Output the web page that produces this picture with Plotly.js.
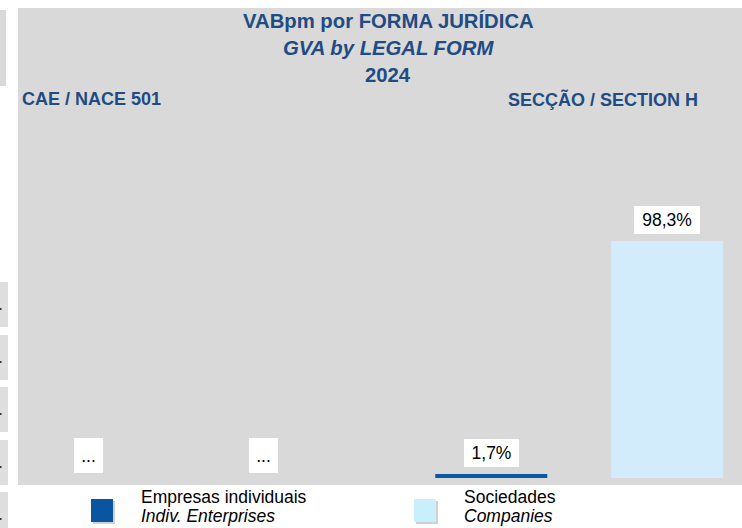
<!DOCTYPE html>
<html>
<head>
<meta charset="utf-8">
<script src="https://cdn.plot.ly/plotly-3.0.1.min.js"></script>
<style>html,body{margin:0;padding:0;background:#fff;}#chart{width:742px;height:528px;}</style>
</head>
<body>
<div id="chart"></div>
<script>
// ---- data ----
const categories = ['CAE / NACE 501', 'SECÇÃO / SECTION H'];
const seriesNamesPt = ['Empresas individuais', 'Sociedades'];
const seriesNamesEn = ['Indiv. Enterprises', 'Companies'];
const empresasValues = [null, 1.7];
const sociedadesValues = [null, 98.3];
const missingLabel = '...';
const titleLines = ['VABpm por FORMA JURÍDICA', 'GVA by LEGAL FORM', '2024'];

// ---- styles ----
const W = 742, H = 528;
const M = {l: 18, r: 0, t: 8, b: 43};
const px2x = p => (p - M.l) / (W - M.l - M.r);
const py2y = p => (H - M.b - p) / (H - M.t - M.b);
const FONT = 'Liberation Sans, Arial, sans-serif';
const titleColor = '#214b82';
const barColors = ['#0b5aa0', '#d3ecfb'];
const legendColors = ['#0a55a2', '#c9eefc'];
const barWidth = 0.278;
const barOffsets = [-0.357, 0.079];

const seriesValues = [empresasValues, sociedadesValues];

const traces = seriesValues.map((vals, s) => ({
  type: 'bar',
  x: categories,
  y: vals,
  name: seriesNamesPt[s],
  width: barWidth,
  offset: barOffsets[s],
  marker: {color: barColors[s]},
  showlegend: false,
  hoverinfo: 'skip'
}));

const fmt = v => v.toFixed(1).replace('.', ',') + '%';

const annotations = [];
// data labels
seriesValues.forEach((vals, s) => {
  vals.forEach((v, i) => {
    const missing = (v === null || v === undefined);
    const text = missing ? missingLabel : fmt(v);
    annotations.push({
      xref: 'x', yref: 'y',
      x: i + barOffsets[s] + barWidth / 2,
      y: missing ? 0 : v,
      text: text,
      showarrow: false,
      xanchor: 'center', yanchor: 'bottom',
      yshift: missing ? 5 : 7,
      bgcolor: '#ffffff',
      borderwidth: 0, borderpad: 2,
      width: missing ? 25 : (text.length > 4 ? 62 : 51),
      height: missing ? 31 : 24,
      font: {family: FONT, size: 17.5, color: '#000'}
    });
  });
});

// titles
const titleY = [21.5, 48.5, 75];
const titleStyles = [{}, {italic: true}, {}];
titleLines.forEach((t, k) => {
  annotations.push({
    xref: 'paper', yref: 'paper', x: px2x(388), y: py2y(titleY[k]),
    xanchor: 'center', yanchor: 'middle', showarrow: false,
    text: titleStyles[k].italic ? '<b><i>' + t + '</i></b>' : '<b>' + t + '</b>',
    font: {family: FONT, size: 20.3, color: titleColor}
  });
});
// group headers
annotations.push({
  xref: 'paper', yref: 'paper', x: px2x(20), y: py2y(99.5),
  xanchor: 'left', yanchor: 'middle', showarrow: false,
  text: '<b>' + categories[0] + '</b>',
  font: {family: FONT, size: 18, color: titleColor}
});
annotations.push({
  xref: 'paper', yref: 'paper', x: px2x(602.5), y: py2y(99.5),
  xanchor: 'center', yanchor: 'middle', showarrow: false,
  text: '<b>' + categories[1] + '</b>',
  font: {family: FONT, size: 18, color: titleColor}
});

// custom legend
const shapes = [];
const legendSquareX = [91, 414];
const legendTextX = [139, 462];
seriesNamesPt.forEach((n, s) => {
  const x0 = legendSquareX[s];
  shapes.push({type: 'rect', xref: 'paper', yref: 'paper',
    x0: px2x(x0 + 2), x1: px2x(x0 + 24), y0: py2y(501), y1: py2y(524),
    fillcolor: 'rgba(0,0,0,0.18)', line: {width: 0}});
  shapes.push({type: 'rect', xref: 'paper', yref: 'paper',
    x0: px2x(x0), x1: px2x(x0 + 22), y0: py2y(499), y1: py2y(522),
    fillcolor: legendColors[s], line: {width: 0}});
  annotations.push({xref: 'paper', yref: 'paper', x: px2x(legendTextX[s]), y: py2y(497),
    xanchor: 'left', yanchor: 'middle', showarrow: false, text: n,
    font: {family: FONT, size: 17.5, color: '#000'}});
  annotations.push({xref: 'paper', yref: 'paper', x: px2x(legendTextX[s]), y: py2y(516),
    xanchor: 'left', yanchor: 'middle', showarrow: false, text: '<i>' + seriesNamesEn[s] + '</i>',
    font: {family: FONT, size: 17.5, color: '#000'}});
});

// left-edge decorations (cut-off spreadsheet cells)
shapes.push({type: 'rect', xref: 'paper', yref: 'paper',
  x0: px2x(0), x1: px2x(6), y0: py2y(86), y1: py2y(10),
  fillcolor: '#d9d9d9', line: {width: 0}});
[[282, 327], [335, 380], [387, 432], [440, 485], [492, 530]].forEach(([a, b]) => {
  shapes.push({type: 'rect', xref: 'paper', yref: 'paper',
    x0: px2x(0), x1: px2x(8), y0: py2y(b), y1: py2y(a),
    fillcolor: '#dedede', line: {width: 0}});
  const m = a + 27;
  shapes.push({type: 'rect', xref: 'paper', yref: 'paper',
    x0: px2x(0), x1: px2x(1.5), y0: py2y(m + 1), y1: py2y(m - 1),
    fillcolor: '#333333', line: {width: 0}});
});

const layout = {
  width: W, height: H,
  margin: M,
  paper_bgcolor: '#ffffff',
  plot_bgcolor: '#d9d9d9',
  barmode: 'overlay',
  xaxis: {type: 'category', range: [-0.392, 1.404], showticklabels: false,
    showgrid: false, zeroline: false, showline: false, ticks: '', fixedrange: true},
  yaxis: {range: [-2.9, 194.9], showticklabels: false, showgrid: false,
    zeroline: false, showline: false, ticks: '', fixedrange: true},
  annotations: annotations,
  shapes: shapes,
  showlegend: false,
  font: {family: FONT}
};

Plotly.newPlot('chart', traces, layout, {displayModeBar: false, staticPlot: true});
</script>
</body>
</html>
